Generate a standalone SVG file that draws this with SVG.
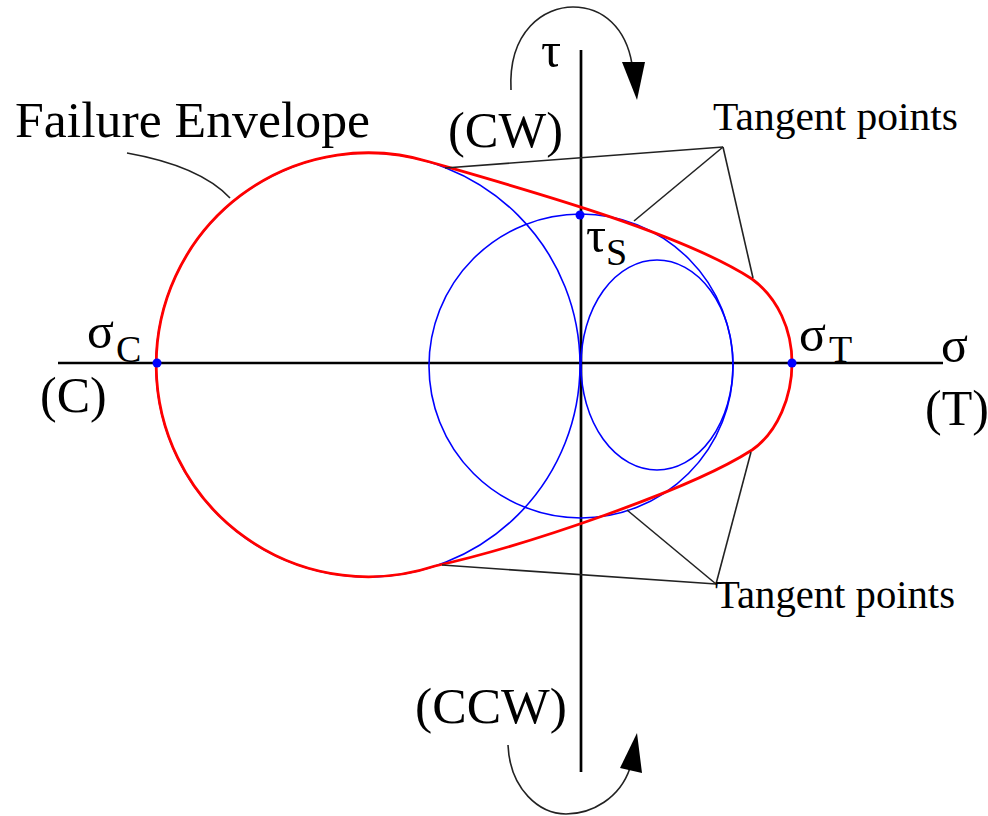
<svg xmlns="http://www.w3.org/2000/svg" width="988" height="816" viewBox="0 0 988 816">
<style>
  text { font-family: "Liberation Serif", "Times New Roman", serif; fill: #000; }
  .axis { stroke: #000; stroke-width: 2.7; fill: none; }
  .circ { stroke: #0000ff; stroke-width: 1.6; fill: none; }
  .env { stroke: #ff0000; stroke-width: 2.8; fill: none; }
  .lead { stroke: #222; stroke-width: 1.6; fill: none; }
  .dot { fill: #0000ff; }
  .big { font-size: 50px; }
  .med { font-size: 41px; }
  .sub { font-size: 38px; }
</style>
<rect width="988" height="816" fill="#fff"/>

<g id="axes">
  <line class="axis" x1="58" y1="363" x2="943" y2="363"/>
  <line class="axis" x1="581" y1="50" x2="581" y2="772"/>
</g>

<g id="mohr-circles">
  <circle class="circ" cx="368" cy="365" r="212"/>
  <circle class="circ" cx="581" cy="366" r="152"/>
  <ellipse class="circ" cx="657" cy="365" rx="76" ry="105"/>
</g>

<g id="failure-envelope">
  <path class="env" d="M 430,162 C 520,188 680,232 752,279 C 778,298 792,330 792,363 C 792,396 778,432 752,450 C 690,490 525,546 435,566 A 212 212 0 1 1 430,162 Z"/>
</g>

<g id="connectors">
  <path class="lead" d="M 127,153 Q 200,166 230,198"/>
  <line class="lead" x1="723" y1="147" x2="445" y2="168"/>
  <line class="lead" x1="723" y1="147" x2="634" y2="221"/>
  <line class="lead" x1="723" y1="147" x2="753" y2="278"/>
  <line class="lead" x1="716" y1="584" x2="442" y2="565"/>
  <line class="lead" x1="716" y1="584" x2="627" y2="510"/>
  <line class="lead" x1="716" y1="584" x2="751" y2="452"/>
  <path class="lead" d="M 511,90 C 508,30 545,7 573,7 C 603,7 626,28 632,64"/>
  <polygon points="622,62 645,62 637,100" fill="#000"/>
  <path class="lead" d="M 508,745 C 510,790 540,814 566,814 C 592,814 620,798 630,768"/>
  <polygon points="620,768 642,773 637,733" fill="#000"/>
</g>

<g id="points">
  <circle class="dot" cx="157" cy="363" r="4.5"/>
  <circle class="dot" cx="792" cy="363" r="4.5"/>
  <circle class="dot" cx="580" cy="215" r="4.5"/>
</g>

<g id="labels">
  <text class="big" x="15" y="137" textLength="355" lengthAdjust="spacingAndGlyphs">Failure Envelope</text>
  <text class="big" x="448" y="147" textLength="115" lengthAdjust="spacingAndGlyphs">(CW)</text>
  <text class="big" x="415" y="723" textLength="152" lengthAdjust="spacingAndGlyphs">(CCW)</text>
  <text class="big" x="541" y="67">τ</text>
  <text class="med" x="713" y="130" textLength="245" lengthAdjust="spacingAndGlyphs">Tangent points</text>
  <text class="med" x="715" y="608" textLength="240" lengthAdjust="spacingAndGlyphs">Tangent points</text>
  <text class="big" x="87" y="348">σ</text><text class="sub" x="116" y="362">C</text>
  <text class="big" x="40" y="412">(C)</text>
  <text class="big" x="799" y="351">σ</text><text class="sub" x="829" y="362">T</text>
  <text class="big" x="941" y="362">σ</text>
  <text class="big" x="925" y="425">(T)</text>
  <text class="big" x="586" y="252">τ</text><text class="sub" x="606" y="265">S</text>
</g>
</svg>
